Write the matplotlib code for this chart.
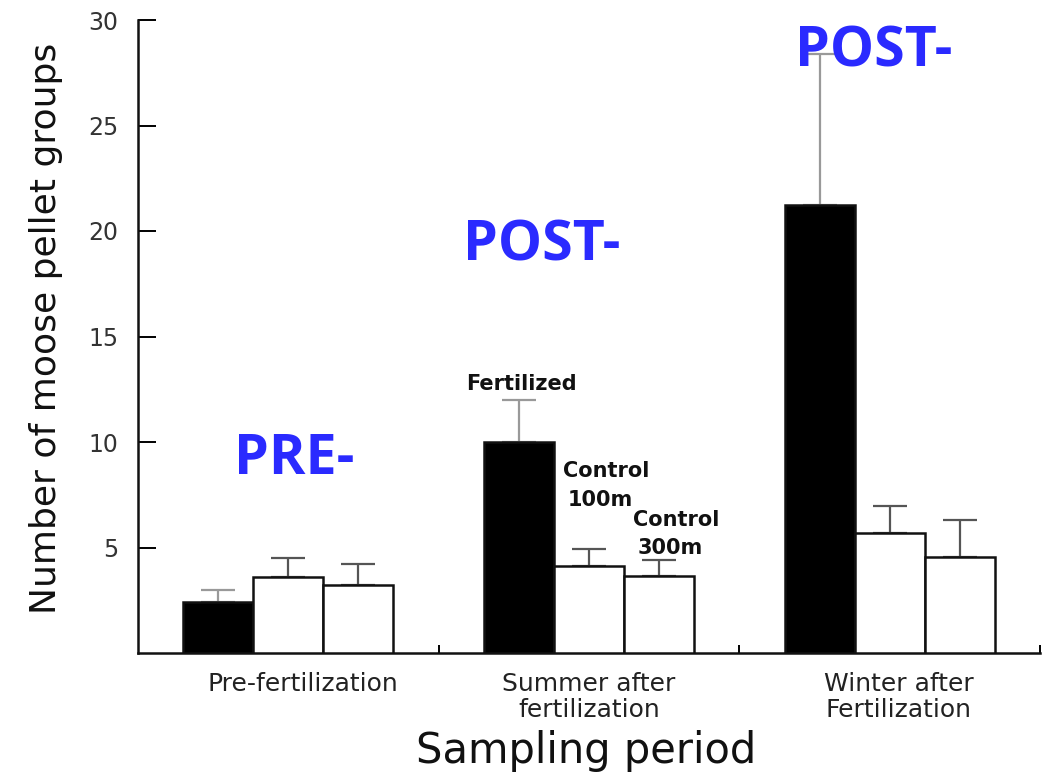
import matplotlib
matplotlib.use("Agg")
import matplotlib.pyplot as plt
import numpy as np

periods = ["Pre-fertilization", "Summer after\nfertilization", "Winter after\nFertilization"]
treatments = ["Fertilized", "Control 100m", "Control 300m"]
fertilized = [2.4, 10.0, 21.25]
control100 = [3.6, 4.1, 5.7]
control300 = [3.2, 3.65, 4.55]
fertilized_err = [0.6, 2.0, 7.15]
control100_err = [0.9, 0.85, 1.25]
control300_err = [1.0, 0.75, 1.75]
yticks = [5, 10, 15, 20, 25, 30]

fig = plt.figure(figsize=(10.45, 7.74), dpi=100)
ax = fig.add_axes([138/1045, 1-653/774, 902/1045, 633/774])

x = np.arange(len(periods))
w = 0.233
series = [(fertilized, fertilized_err, "black", "#999999"),
          (control100, control100_err, "white", "#555555"),
          (control300, control300_err, "white", "#555555")]
for i, (vals, errs, fc, ec) in enumerate(series):
    pos = x + (i - 1) * w
    ax.bar(pos, vals, width=w, color=fc, edgecolor="#111111", linewidth=1.8, zorder=3)
    ax.errorbar(pos, vals, yerr=[np.zeros(len(vals)), errs], fmt="none",
                ecolor=ec, elinewidth=1.6, capsize=12, capthick=1.6, zorder=2)

ax.set_xlim(-0.5, 2.5)
ax.set_ylim(0, 30)
ax.set_yticks(yticks)
ax.set_xticks([0.05, 1.0, 2.03])
ax.set_xticklabels(periods, fontsize=18, color="#222222", family="DejaVu Sans", linespacing=1.1)
ax.set_xticks([0.5, 1.5, 2.5], minor=True)
ax.tick_params(axis="y", direction="in", length=13, width=1.4, pad=14, labelsize=17, labelcolor="#333333")
ax.tick_params(axis="x", which="major", length=0, pad=14)
ax.tick_params(axis="x", which="minor", direction="in", length=6, width=1.4)

for s in ["top", "right"]:
    ax.spines[s].set_visible(False)
for s in ["left", "bottom"]:
    ax.spines[s].set_linewidth(1.8)
    ax.spines[s].set_color("#111111")

ax.set_ylabel("Number of moose pellet groups", fontsize=26, family="DejaVu Sans", color="#111111")
ax.yaxis.set_label_coords(-0.083, 0.513)
ax.set_xlabel("Sampling period", fontsize=30, family="DejaVu Sans", color="#111111")
ax.xaxis.set_label_coords(0.497, -0.121)

# small bold labels
lab_kw = dict(fontsize=15, fontweight="bold", family="DejaVu Sans", ha="center", va="baseline", color="#111111")
ax.text(0.775, 12.45, "Fertilized", **lab_kw)
ax.text(1.056, 8.33, "Control", **lab_kw)
ax.text(1.038, 6.96, "100m", **lab_kw)
ax.text(1.289, 6.01, "Control", **lab_kw)
ax.text(1.269, 4.69, "300m", **lab_kw)

# blue overlay labels
blue_kw = dict(fontsize=40, fontweight="bold", family="Open Sans", ha="center", va="baseline", color="#2a2aff", zorder=5)
ax.text(0.02, 8.5, "PRE-", **blue_kw)
ax.text(0.844, 18.6, "POST-", **blue_kw)
ax.text(1.948, 27.8, "POST-", **blue_kw)

fig.savefig("out.png", dpi=100)
